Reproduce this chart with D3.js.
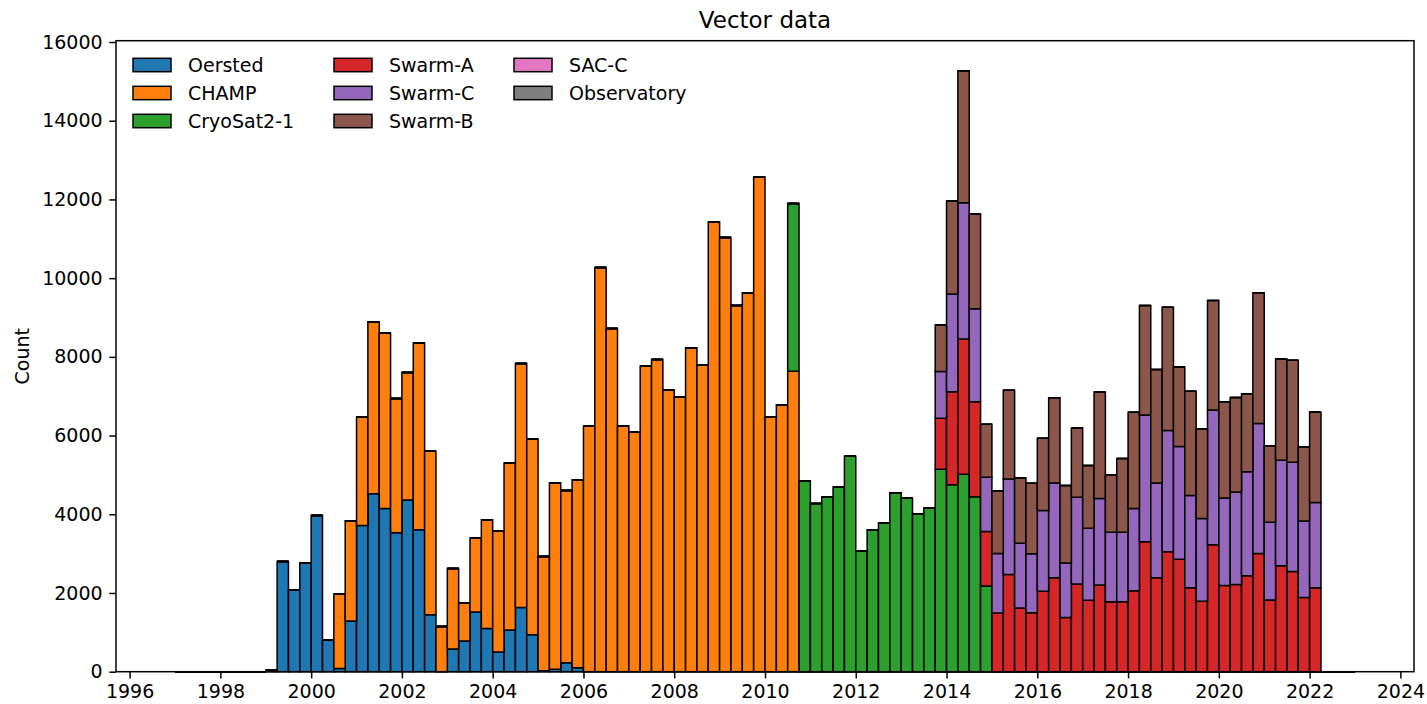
<!DOCTYPE html>
<html>
<head>
<meta charset="utf-8">
<script src="https://cdn.jsdelivr.net/npm/d3@7"></script>
<style>
  html, body { margin: 0; padding: 0; background: #fff; }
  svg { display: block; font-family: "DejaVu Sans", sans-serif; }
</style>
</head>
<body>
<svg id="chart" width="1427" height="704"></svg>
<script>
// Quarterly bins, 1997.0 to 2023.0 (104 bins, four per year)
const binStart = 1997;
const binWidth = 0.25;
const binCount = 104;

const seriesNames = ["Oersted", "CHAMP", "CryoSat2-1", "Swarm-A", "Swarm-C", "Swarm-B", "SAC-C", "Observatory"];
const seriesColors = ["#1f77b4", "#ff7f0e", "#2ca02c", "#d62728", "#9467bd", "#8c564b", "#e377c2", "#7f7f7f"];

// Counts per quarter, one row per year (1997 .. 2022)
const oersted = [
  0, 0, 0, 0,            // 1997
  0, 0, 0, 0,            // 1998
  40, 2800, 2070, 2760,  // 1999
  3970, 800, 80, 1290,   // 2000
  3715, 4520, 4150, 3530,// 2001
  4360, 3610, 1450, 0,   // 2002
  575, 780, 1520, 1095,  // 2003
  500, 1060, 1630, 940,  // 2004
  25, 60, 230, 100,      // 2005
  0, 0, 0, 0, 0, 0, 0, 0, 0, 0, 0, 0, 0, 0, 0, 0, 0, 0, 0, 0,
  0, 0, 0, 0, 0, 0, 0, 0, 0, 0, 0, 0, 0, 0, 0, 0, 0, 0, 0, 0,
  0, 0, 0, 0, 0, 0, 0, 0, 0, 0, 0, 0, 0, 0, 0, 0, 0, 0, 0, 0,
  0, 0, 0, 0, 0, 0, 0, 0, 0, 0, 0, 0, 0, 0, 0, 0, 0, 0, 0, 0,
  0, 0, 0, 0, 0, 0, 0, 0, 0, 0, 0, 0, 0, 0, 0, 0, 0, 0, 0, 0,
  0, 0, 0, 0, 0, 0, 0, 0, 0, 0, 0, 0, 0, 0, 0, 0, 0, 0, 0, 0
].slice(0, 104);

const champ = [
  0, 0, 0, 0,              // 1997
  0, 0, 0, 0,              // 1998
  0, 0, 0, 0,              // 1999
  0, 0, 1890, 2545,        // 2000
  2760, 4370, 4450, 3410,  // 2001
  3240, 4745, 4150, 1150,  // 2002
  2050, 960, 1875, 2765,   // 2003
  3080, 4240, 6200, 4970,  // 2004
  2900, 4735, 4375, 4780,  // 2005
  6235, 10270, 8720, 6250, // 2006
  6090, 7770, 7930, 7150,  // 2007
  6980, 8230, 7795, 11435, // 2008
  11035, 9305, 9630, 12570,// 2009
  6475, 6780, 7635, 0,     // 2010
  0, 0, 0, 0, 0, 0, 0, 0, 0, 0, 0, 0, 0, 0, 0, 0,
  0, 0, 0, 0, 0, 0, 0, 0, 0, 0, 0, 0, 0, 0, 0, 0,
  0, 0, 0, 0, 0, 0, 0, 0, 0, 0, 0, 0, 0, 0, 0, 0
];

const cryosat = [
  0, 0, 0, 0, 0, 0, 0, 0, 0, 0, 0, 0,   // 1997-1999
  0, 0, 0, 0, 0, 0, 0, 0, 0, 0, 0, 0,   // 2000-2002
  0, 0, 0, 0, 0, 0, 0, 0, 0, 0, 0, 0,   // 2003-2005
  0, 0, 0, 0, 0, 0, 0, 0, 0, 0, 0, 0,   // 2006-2008
  0, 0, 0, 0,                           // 2009
  0, 0, 4260, 4855,                     // 2010
  4275, 4445, 4695, 5475,               // 2011
  3065, 3610, 3785, 4545,               // 2012
  4405, 4005, 4165, 5145,               // 2013
  4750, 5015, 4445, 2180,               // 2014
  0, 0, 0, 0, 0, 0, 0, 0, 0, 0, 0, 0,   // 2015-2017
  0, 0, 0, 0, 0, 0, 0, 0, 0, 0, 0, 0,   // 2018-2020
  0, 0, 0, 0, 0, 0, 0, 0                // 2021-2022
];

const swarmA = [
  0, 0, 0, 0, 0, 0, 0, 0, 0, 0, 0, 0,   // 1997-1999
  0, 0, 0, 0, 0, 0, 0, 0, 0, 0, 0, 0,   // 2000-2002
  0, 0, 0, 0, 0, 0, 0, 0, 0, 0, 0, 0,   // 2003-2005
  0, 0, 0, 0, 0, 0, 0, 0, 0, 0, 0, 0,   // 2006-2008
  0, 0, 0, 0, 0, 0, 0, 0, 0, 0, 0, 0,   // 2009-2011
  0, 0, 0, 0,                           // 2012
  0, 0, 0, 1295,                        // 2013
  2365, 3440, 2415, 1385,               // 2014
  1490, 2470, 1620, 1500,               // 2015
  2045, 2385, 1375, 2230,               // 2016
  1815, 2205, 1780, 1780,               // 2017
  2060, 3300, 2385, 3045,               // 2018
  2860, 2130, 1790, 3225,               // 2019
  2190, 2215, 2435, 3005,               // 2020
  1825, 2695, 2545, 1885,               // 2021
  2135, 0, 0, 0                         // 2022
];

const swarmC = [
  0, 0, 0, 0, 0, 0, 0, 0, 0, 0, 0, 0,   // 1997-1999
  0, 0, 0, 0, 0, 0, 0, 0, 0, 0, 0, 0,   // 2000-2002
  0, 0, 0, 0, 0, 0, 0, 0, 0, 0, 0, 0,   // 2003-2005
  0, 0, 0, 0, 0, 0, 0, 0, 0, 0, 0, 0,   // 2006-2008
  0, 0, 0, 0, 0, 0, 0, 0, 0, 0, 0, 0,   // 2009-2011
  0, 0, 0, 0,                           // 2012
  0, 0, 0, 1185,                        // 2013
  2480, 3460, 2360, 1375,               // 2014
  1515, 2425, 1645, 1500,               // 2015
  2050, 2410, 1390, 2205,               // 2016
  1830, 2195, 1765, 1765,               // 2017
  2085, 3225, 2410, 3085,               // 2018
  2865, 2350, 2100, 3425,               // 2019
  2225, 2350, 2645, 3300,               // 2020
  1975, 2680, 2775, 1945,               // 2021
  2165, 0, 0, 0                         // 2022
];

const swarmB = [
  0, 0, 0, 0, 0, 0, 0, 0, 0, 0, 0, 0,   // 1997-1999
  0, 0, 0, 0, 0, 0, 0, 0, 0, 0, 0, 0,   // 2000-2002
  0, 0, 0, 0, 0, 0, 0, 0, 0, 0, 0, 0,   // 2003-2005
  0, 0, 0, 0, 0, 0, 0, 0, 0, 0, 0, 0,   // 2006-2008
  0, 0, 0, 0, 0, 0, 0, 0, 0, 0, 0, 0,   // 2009-2011
  0, 0, 0, 0,                           // 2012
  0, 0, 0, 1185,                        // 2013
  2365, 3355, 2410, 1350,               // 2014
  1595, 2255, 1655, 1790,               // 2015
  1840, 2165, 1965, 1755,               // 2016
  1595, 2705, 1460, 1875,               // 2017
  2450, 2780, 2885, 3130,               // 2018
  2020, 2645, 2285, 2780,               // 2019
  2445, 2405, 1980, 3325,               // 2020
  1940, 2570, 2595, 1885,               // 2021
  2300, 0, 0, 0                         // 2022
];

const sacC = new Array(binCount).fill(0);
const observatory = new Array(binCount).fill(0);

const xTickValues = [1996, 1998, 2000, 2002, 2004, 2006, 2008, 2010, 2012, 2014, 2016, 2018, 2020, 2022, 2024];
const yTickValues = [0, 2000, 4000, 6000, 8000, 10000, 12000, 14000, 16000];

// ---- table for the stack layout ----
const seriesValues = [oersted, champ, cryosat, swarmA, swarmC, swarmB, sacC, observatory];
const rows = d3.range(binCount).map(i => {
  const r = { x0: binStart + i * binWidth, x1: binStart + (i + 1) * binWidth };
  seriesNames.forEach((n, k) => { r[n] = seriesValues[k][i] || 0; });
  return r;
});
const stacked = d3.stack().keys(seriesNames)(rows);

// ---- layout ----
const plot = { left: 116, right: 1414, top: 40.7, bottom: 671.7 };
const svg = d3.select("#chart");

const xMin = binStart, xMax = binStart + binCount * binWidth;
const xPad = (xMax - xMin) * 0.05;
const x = d3.scaleLinear().domain([xMin - xPad, xMax + xPad]).range([plot.left, plot.right]);

const maxTotal = d3.max(rows, r => d3.sum(seriesNames, n => r[n]));
const y = d3.scaleLinear().domain([0, maxTotal * 1.05]).range([plot.bottom, plot.top]);

const color = d3.scaleOrdinal().domain(seriesNames).range(seriesColors);

// bars as closed paths, so that empty bins still show their outline
const barPath = d => {
  const xa = x(d.data.x0), xb = x(d.data.x1), ya = y(d[0]), yb = y(d[1]);
  return `M${xa},${ya}H${xb}V${yb}H${xa}Z`;
};

const layers = svg.append("g").attr("class", "bars")
  .selectAll("g").data(stacked).join("g")
  .attr("fill", d => color(d.key));

layers.selectAll("path").data(d => d).join("path")
  .attr("d", barPath)
  .attr("stroke", "#000")
  .attr("stroke-width", 1.5)
  .attr("stroke-linejoin", "miter");

// axes
const tickLen = 6.7;
const xAxis = svg.append("g")
  .attr("transform", `translate(0,${plot.bottom})`)
  .call(d3.axisBottom(x).tickValues(xTickValues).tickFormat(d3.format("d"))
    .tickSize(tickLen).tickPadding(6.5).tickSizeOuter(0));
const yAxis = svg.append("g")
  .attr("transform", `translate(${plot.left},0)`)
  .call(d3.axisLeft(y).tickValues(yTickValues).tickFormat(d3.format("d"))
    .tickSize(tickLen).tickPadding(6.7).tickSizeOuter(0));

[xAxis, yAxis].forEach(a => {
  a.select(".domain").remove();
  a.selectAll(".tick line").attr("stroke", "#000").attr("stroke-width", 1.5);
  a.selectAll(".tick text").attr("fill", "#000")
    .style("font-family", "'DejaVu Sans', sans-serif").style("font-size", "19px");
});

// frame
svg.append("rect")
  .attr("x", plot.left).attr("y", plot.top)
  .attr("width", plot.right - plot.left).attr("height", plot.bottom - plot.top)
  .attr("fill", "none").attr("stroke", "#000").attr("stroke-width", 1.5);

// title and axis label
svg.append("text")
  .attr("x", (plot.left + plot.right) / 2).attr("y", 28)
  .attr("text-anchor", "middle")
  .style("font-size", "23px").attr("fill", "#000")
  .text("Vector data");

svg.append("text")
  .attr("transform", `translate(29,${(plot.top + plot.bottom) / 2}) rotate(-90)`)
  .attr("text-anchor", "middle")
  .style("font-size", "19px").attr("fill", "#000")
  .text("Count");

// legend, filled column by column
const legendCols = [133, 334, 514];
const legendRowY = [65, 93, 121];
const legend = svg.append("g").attr("class", "legend");
seriesNames.forEach((name, i) => {
  const col = Math.floor(i / 3), row = i % 3;
  const g = legend.append("g")
    .attr("transform", `translate(${legendCols[col]},${legendRowY[row]})`);
  g.append("rect")
    .attr("x", 0).attr("y", -6.7).attr("width", 38).attr("height", 13.4)
    .attr("fill", color(name)).attr("stroke", "#000").attr("stroke-width", 1.5);
  g.append("text")
    .attr("x", 55).attr("y", 0).attr("dy", "0.35em")
    .style("font-size", "19px").attr("fill", "#000")
    .text(name);
});
</script>
</body>
</html>
